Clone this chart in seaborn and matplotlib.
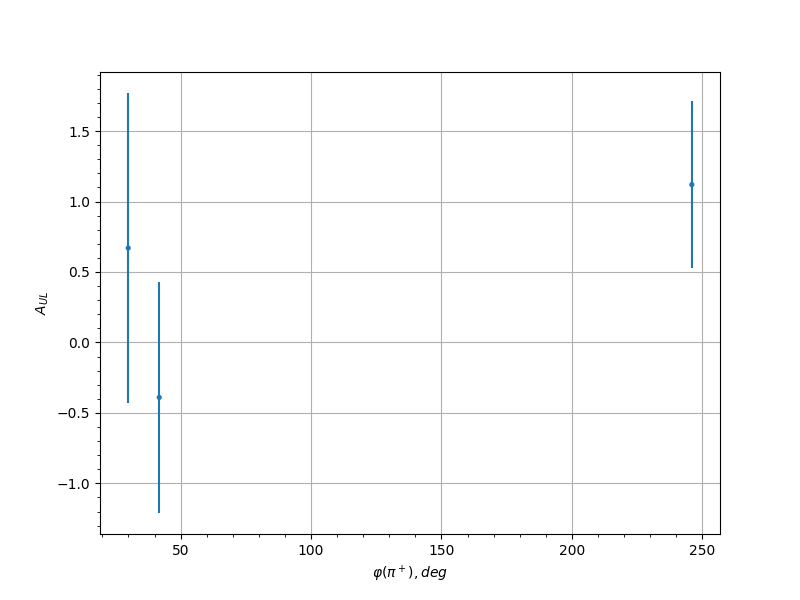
import matplotlib
matplotlib.use("Agg")
import matplotlib.pyplot as plt
import seaborn as sns

# Data
phi = [29.9, 41.8, 246.0]
a_ul = [0.67, -0.39, 1.12]
a_ul_err = [1.10, 0.82, 0.59]

fig, ax = plt.subplots(figsize=(8, 6), dpi=100)

ax.errorbar(phi, a_ul, yerr=a_ul_err, fmt="none", ecolor="C0", linewidth=1.5)
sns.scatterplot(x=phi, y=a_ul, ax=ax, color="C0", s=14, edgecolor="none", zorder=3)

ax.set_xlabel(r"$\varphi(\pi^+), deg$")
ax.set_ylabel(r"$A_{UL}$")
ax.minorticks_on()
ax.grid(True, which="major")

plt.savefig("out.png")
